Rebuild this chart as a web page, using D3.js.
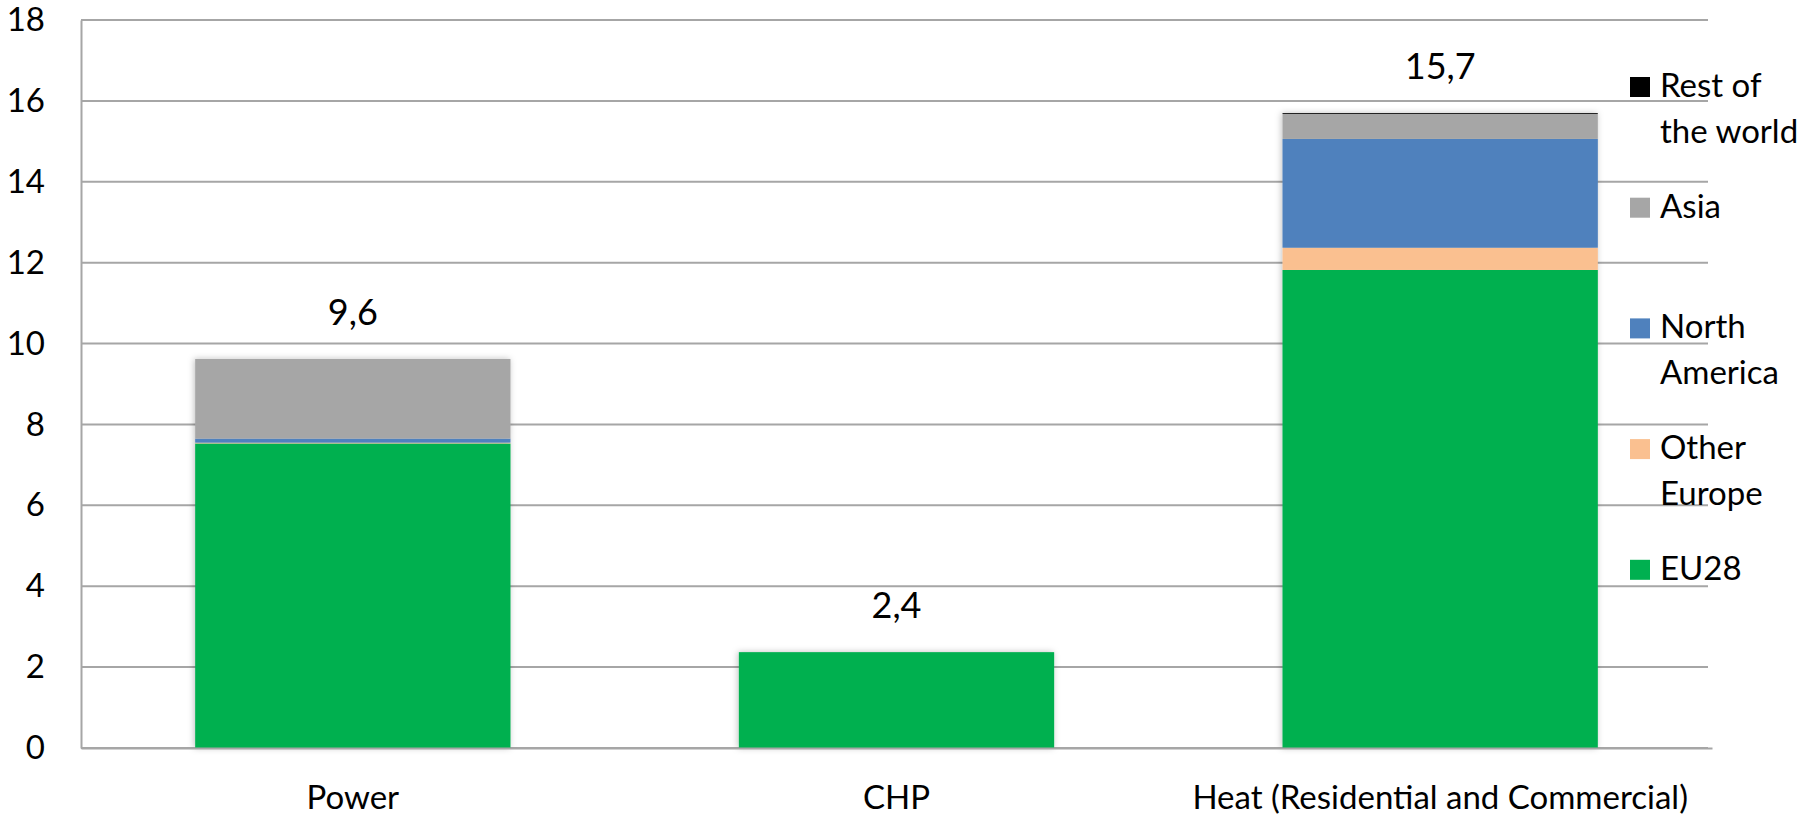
<!DOCTYPE html>
<html>
<head>
<meta charset="utf-8">
<script src="https://cdnjs.cloudflare.com/ajax/libs/d3/7.8.5/d3.min.js"></script>
<style>
  body { margin: 0; background: #fff; }
  svg { font-family: Lato, "Open Sans", sans-serif; }
</style>
</head>
<body>
<div id="chart"></div>
<script>
// categories and series
var categories = ["Power", "CHP", "Heat (Residential and Commercial)"];
var series = ["EU28", "Other Europe", "North America", "Asia", "Rest of the world"];
var eu28 = [7.53, 2.37, 11.82];
var otherEurope = [0.02, 0, 0.55];
var northAmerica = [0.10, 0, 2.69];
var asia = [1.97, 0, 0.62];
var restOfWorld = [0, 0, 0.02];
var totalLabels = ["9,6", "2,4", "15,7"];
var yTicks = [0, 2, 4, 6, 8, 10, 12, 14, 16, 18];

var colors = ["#00B050", "#FAC090", "#4F81BD", "#A6A6A6", "#000000"];
// legend text, with line breaks as in the original
var legendLines = {
    "Rest of the world": ["Rest of", "the world"],
    "Asia": ["Asia"],
    "North America": ["North", "America"],
    "Other Europe": ["Other", "Europe"],
    "EU28": ["EU28"]
};

var width = 1805, height = 815;
var mLeft = 81, mRight = 1712, mTop = 20, mBottom = 748;

// build rows for d3.stack
var rows = categories.map(function(c, i) {
    return {
        cat: c,
        "EU28": eu28[i],
        "Other Europe": otherEurope[i],
        "North America": northAmerica[i],
        "Asia": asia[i],
        "Rest of the world": restOfWorld[i]
    };
});

var stacked = d3.stack().keys(series)(rows);

var x = d3.scaleBand()
    .domain(categories)
    .range([mLeft, mRight])
    .paddingInner(0.42)
    .paddingOuter(0.21);

var y = d3.scaleLinear()
    .domain([0, 18])
    .range([mBottom, mTop]);

var color = d3.scaleOrdinal().domain(series).range(colors);

var svg = d3.select("#chart")
    .append("svg")
    .attr("width", width)
    .attr("height", height);

var defs = svg.append("defs");
var shadow = defs.append("filter")
    .attr("id", "shadow")
    .attr("x", "-10%").attr("y", "-10%")
    .attr("width", "120%").attr("height", "120%");
shadow.append("feDropShadow")
    .attr("dx", -1).attr("dy", 0)
    .attr("stdDeviation", 3)
    .attr("flood-color", "#000")
    .attr("flood-opacity", 0.25);

// gridlines
svg.append("g")
    .selectAll("line")
    .data(yTicks)
    .enter()
    .append("line")
    .attr("x1", mLeft)
    .attr("x2", mRight - 4)
    .attr("y1", function(d) { return y(d); })
    .attr("y2", function(d) { return y(d); })
    .attr("stroke", "#a6a6a6")
    .attr("stroke-width", 2);

// y axis
var yAxis = d3.axisLeft(y)
    .tickValues(yTicks)
    .tickSize(0)
    .tickPadding(36);

var yG = svg.append("g")
    .attr("transform", "translate(" + mLeft + ",0)")
    .call(yAxis);
yG.select(".domain").attr("stroke", "#a6a6a6").attr("stroke-width", 2);
yG.selectAll("text")
    .attr("font-size", 33)
    .attr("fill", "#000")
    .attr("font-family", "Lato, 'Open Sans', sans-serif");

// bars
var layers = svg.append("g")
    .attr("filter", "url(#shadow)")
    .selectAll("g")
    .data(stacked)
    .enter()
    .append("g")
    .attr("fill", function(d) { return color(d.key); });

layers.selectAll("rect")
    .data(function(d) { return d; })
    .enter()
    .append("rect")
    .attr("x", function(d) { return x(d.data.cat); })
    .attr("width", x.bandwidth())
    .attr("y", function(d) { return y(d[1]); })
    .attr("height", function(d) { return y(d[0]) - y(d[1]); });

// x axis
var xAxis = d3.axisBottom(x).tickSize(0).tickPadding(38);
var xG = svg.append("g")
    .attr("transform", "translate(0," + mBottom + ")")
    .call(xAxis);
xG.select(".domain").attr("stroke", "#a6a6a6").attr("stroke-width", 2);
xG.selectAll("text")
    .attr("font-size", 33)
    .attr("fill", "#000")
    .attr("font-family", "Lato, 'Open Sans', sans-serif");

// totals above bars
var topLayer = stacked[stacked.length - 1];
svg.append("g")
    .selectAll("text")
    .data(topLayer)
    .enter()
    .append("text")
    .attr("x", function(d) { return x(d.data.cat) + x.bandwidth() / 2; })
    .attr("y", function(d) { return y(d[1]) - 34; })
    .attr("text-anchor", "middle")
    .attr("font-size", 36)
    .attr("fill", "#000")
    .text(function(d, i) { return totalLabels[i]; });

// legend
var legendOrder = series.slice().reverse();
var legend = svg.append("g")
    .selectAll("g")
    .data(legendOrder)
    .enter()
    .append("g")
    .attr("transform", function(d, i) { return "translate(1630," + (77 + i * 120.7) + ")"; });

legend.append("rect")
    .attr("width", 20)
    .attr("height", 20)
    .attr("fill", function(d) { return color(d); });

legend.append("text")
    .attr("x", 30)
    .attr("y", 20)
    .attr("font-size", 33)
    .attr("fill", "#000")
    .selectAll("tspan")
    .data(function(d) { return legendLines[d]; })
    .enter()
    .append("tspan")
    .attr("x", 30)
    .attr("dy", function(d, i) { return i === 0 ? 0 : 46; })
    .text(function(d) { return d; });
</script>
</body>
</html>
